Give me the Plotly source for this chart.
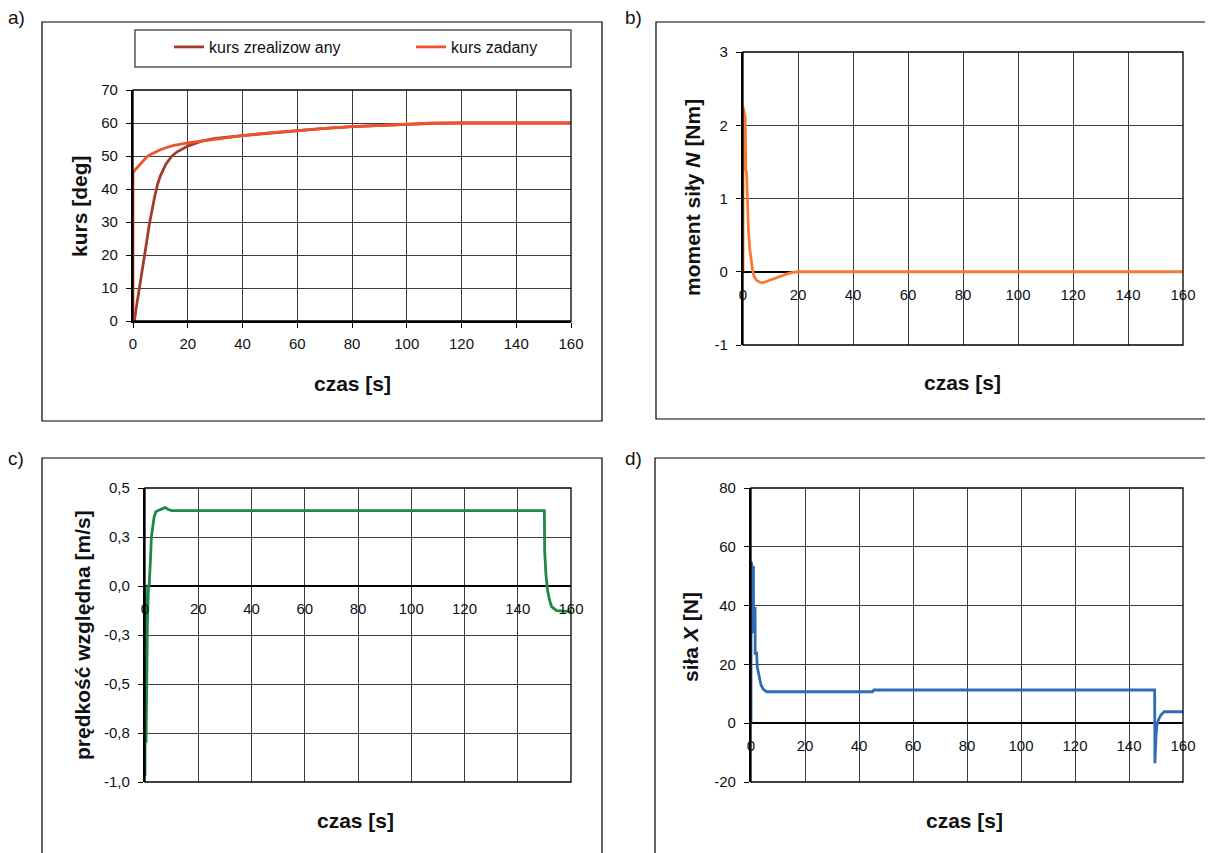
import plotly.graph_objects as go

# page body has an 8px margin: the figure is sized and positioned to compensate
OFF = 8
W, H = 1213 - OFF, 853 - OFF

# ---------------- data ----------------
x_ticks = [0, 20, 40, 60, 80, 100, 120, 140, 160]

# a) kurs
a_t_real = [0, 0.5, 1, 2, 3, 4, 5, 6, 7, 8, 9, 10, 12, 14, 16, 18, 20, 25, 30, 40, 50, 60, 70, 80, 90, 100, 110, 120, 160]
a_v_real = [0, 0, 3, 8, 13, 18, 24, 29.5, 34, 38, 41.5, 44, 47.5, 49.8, 51.2, 52.2, 53, 54.5, 55.3, 56.2, 57, 57.7, 58.4, 58.9, 59.3, 59.6, 59.9, 60, 60]
a_t_zad = [0, 0, 1, 2, 3, 4, 5, 6, 8, 10, 12, 15, 20, 30, 40, 50, 60, 70, 80, 90, 100, 105, 110, 160]
a_v_zad = [0, 45, 46, 47, 48, 49, 49.7, 50.3, 51.2, 51.9, 52.5, 53.2, 54, 55.2, 56.2, 57, 57.8, 58.4, 58.9, 59.3, 59.6, 59.8, 60, 60]
a_yticks = [0, 10, 20, 30, 40, 50, 60, 70]
a_names = ["kurs zrealizow any", "kurs zadany"]

# b) moment siły N
b_t = [0, 0.05, 0.3, 0.8, 1.0, 1.3, 1.7, 2.0, 2.5, 3.0, 3.5, 4, 5, 6, 7, 8, 10, 12, 14, 16, 18, 20, 160]
b_v = [0, 2.25, 2.2, 2.1, 1.4, 1.35, 0.9, 0.55, 0.3, 0.12, 0.02, -0.06, -0.12, -0.14, -0.15, -0.14, -0.11, -0.08, -0.05, -0.03, -0.01, 0, 0]
b_yticks = [-1, 0, 1, 2, 3]

# c) prędkość względna
c_t = [0, 0.1, 0.4, 0.6, 0.9, 1.3, 1.6, 2.1, 2.4, 2.9, 3.4, 4.1, 5.6, 7.5, 8.8, 10, 150, 150.1, 150.6, 151.2, 151.9, 152.7, 154.6, 157.7, 160]
c_v = [-0.97, 0.0, -0.8, -0.43, -0.19, 0.0, 0.01, 0.15, 0.25, 0.30, 0.35, 0.38, 0.39, 0.40, 0.39, 0.385, 0.385, 0.18, 0.056, -0.02, -0.07, -0.105, -0.126, -0.131, -0.131]
c_yticks = [-1.0, -0.75, -0.5, -0.25, 0.0, 0.25, 0.5]
c_yticktext = ["-1,0", "-0,8", "-0,5", "-0,3", "0,0", "0,3", "0,5"]

# d) siła X
d_t = [0, 0.05, 0.5, 0.9, 0.95, 1.5, 1.55, 2.1, 2.3, 3.1, 3.7, 4.6, 5.8, 45, 45.5, 149.5, 149.6, 150.0, 150.3, 150.9, 151.8, 153, 160]
d_v = [0, 55, 53, 53, 30.5, 39.5, 23.8, 23.8, 19.2, 15.8, 13, 11.5, 10.7, 10.7, 11.3, 11.3, -13.6, -4.5, -1, 1.1, 2.8, 3.9, 3.9]
d_yticks = [-20, 0, 20, 40, 60, 80]

# ---------------- styling ----------------
FONT = "Arial, 'Liberation Sans', sans-serif"
COL_REAL = "#A33A2B"
COL_ZAD = "#F0522B"
COL_B = "#F47B31"
COL_C = "#1D8A47"
COL_D = "#2E6DB5"
GRID = "#3c3c3c"


def fx(px):
    return (px - OFF) / W


def fy(py):
    return 1 - (py - OFF) / H


# plot areas in page pixels: (x0, x1, ytop, ybottom)
boxes = {
    "a": (133, 571, 90, 321),
    "b": (743, 1183, 52, 345),
    "c": (145, 571, 488, 782),
    "d": (751, 1183, 488, 782),
}
yranges = {"a": [0, 70], "b": [-1, 3], "c": [-1.0, 0.5], "d": [-20, 80]}

fig = go.Figure()

fig.add_trace(go.Scatter(x=a_t_real, y=a_v_real, mode="lines", name=a_names[0],
                         line=dict(color=COL_REAL, width=2.8), xaxis="x", yaxis="y", legend="legend"))
fig.add_trace(go.Scatter(x=a_t_zad, y=a_v_zad, mode="lines", name=a_names[1],
                         line=dict(color=COL_ZAD, width=2.8), xaxis="x", yaxis="y", legend="legend2"))
fig.add_trace(go.Scatter(x=b_t, y=b_v, mode="lines", showlegend=False,
                         line=dict(color=COL_B, width=2.8), xaxis="x2", yaxis="y2"))
fig.add_trace(go.Scatter(x=c_t, y=c_v, mode="lines", showlegend=False,
                         line=dict(color=COL_C, width=2.8), xaxis="x3", yaxis="y3"))
fig.add_trace(go.Scatter(x=d_t, y=d_v, mode="lines", showlegend=False,
                         line=dict(color=COL_D, width=2.8), xaxis="x4", yaxis="y4"))

tickfont = dict(family=FONT, size=15, color="#111")
layout = dict(
    width=W, height=H, autosize=False,
    margin=dict(l=0, r=0, t=0, b=0),
    paper_bgcolor="white", plot_bgcolor="white",
    font=dict(family=FONT, color="#111"),
    shapes=[], annotations=[],
)

ytick_map = {
    "a": (a_yticks, [str(v) for v in a_yticks]),
    "b": (b_yticks, [str(v) for v in b_yticks]),
    "c": (c_yticks, c_yticktext),
    "d": (d_yticks, [str(v) for v in d_yticks]),
}

for i, k in enumerate(["a", "b", "c", "d"]):
    x0, x1, yt, yb = boxes[k]
    sfx = "" if i == 0 else str(i + 1)
    dom_x = [fx(x0), fx(x1)]
    dom_y = [fy(yb), fy(yt)]
    ymin, ymax = yranges[k]
    xa = dict(domain=dom_x, range=[0, 160], tickvals=x_ticks, ticktext=[str(v) for v in x_ticks],
              showgrid=True, gridcolor=GRID, gridwidth=1, zeroline=False,
              tickfont=tickfont, automargin=False, fixedrange=True)
    if k == "a":
        xa.update(anchor="y", showline=True, linecolor="black", linewidth=2,
                  ticks="outside", ticklen=5, tickcolor="black", ticklabelstandoff=3)
    else:
        pos = dom_y[0] + (0 - ymin) / (ymax - ymin) * (dom_y[1] - dom_y[0])
        xa.update(anchor="free", position=pos, showline=False, ticks="", ticklabelstandoff=12)
    tv, tt = ytick_map[k]
    ya = dict(domain=dom_y, range=[ymin, ymax], tickvals=tv, ticktext=tt,
              anchor="x" + sfx, showgrid=True, gridcolor=GRID, gridwidth=1,
              zeroline=(k != "a"), zerolinecolor="black", zerolinewidth=1.6,
              showline=True, linecolor="black", linewidth=2.2,
              ticks="outside", ticklen=5, tickcolor="black", ticklabelstandoff=5,
              tickfont=tickfont, automargin=False, fixedrange=True)
    layout["xaxis" + sfx] = xa
    layout["yaxis" + sfx] = ya
    # plot area border
    layout["shapes"].append(dict(type="rect", xref="x" + sfx + " domain", yref="y" + sfx + " domain",
                                 x0=0, x1=1, y0=0, y1=1, line=dict(color="black", width=1.3), layer="above"))

# outer frames of the four panels
frames = [(42, 602, 22, 421), (656, 1216, 22, 419), (42, 602, 458, 860), (655, 1216, 458, 860)]
for (x0, x1, y0, y1) in frames:
    layout["shapes"].append(dict(type="rect", xref="paper", yref="paper",
                                 x0=fx(x0), x1=fx(x1), y0=fy(y1), y1=fy(y0),
                                 line=dict(color="black", width=1.2), layer="below"))
# legend box
layout["shapes"].append(dict(type="rect", xref="paper", yref="paper",
                             x0=fx(135), x1=fx(571), y0=fy(67), y1=fy(30),
                             line=dict(color="#555", width=1.5)))

# panel letters
for lab, (px, py) in zip(["a)", "b)", "c)", "d)"], [(16, 18), (633, 18), (16, 458), (633, 458)]):
    layout["annotations"].append(dict(text=lab, x=fx(px), y=fy(py), xref="paper", yref="paper",
                                      showarrow=False, xanchor="center", yanchor="middle",
                                      font=dict(family=FONT, size=19, color="#111")))

# axis titles
xt_font = dict(family=FONT, size=21, color="#111")
for (px, py) in [(352, 383), (962, 382), (356, 820), (964, 820)]:
    layout["annotations"].append(dict(text="<b>czas [s]</b>", x=fx(px), y=fy(py), xref="paper", yref="paper",
                                      showarrow=False, xanchor="center", yanchor="middle", font=xt_font))
ytitles = [("<b>kurs [deg]</b>", 80, 206), ("<b>moment siły <i>N</i> [Nm]</b>", 692, 198),
           ("<b>prędkość względna [m/s]</b>", 82, 635), ("<b>siła <i>X</i> [N]</b>", 690, 637)]
for (txt, px, py) in ytitles:
    layout["annotations"].append(dict(text=txt, x=fx(px), y=fy(py), xref="paper", yref="paper",
                                      showarrow=False, xanchor="center", yanchor="middle",
                                      textangle=-90, font=xt_font))

leg_common = dict(orientation="h", xanchor="left", yanchor="middle", bgcolor="rgba(0,0,0,0)",
                  borderwidth=0, font=dict(family=FONT, size=16, color="#111"), y=fy(47))
layout["legend"] = dict(leg_common, x=fx(169))
layout["legend2"] = dict(leg_common, x=fx(411))

fig.update_layout(**layout)
fig.write_html("out.html")
